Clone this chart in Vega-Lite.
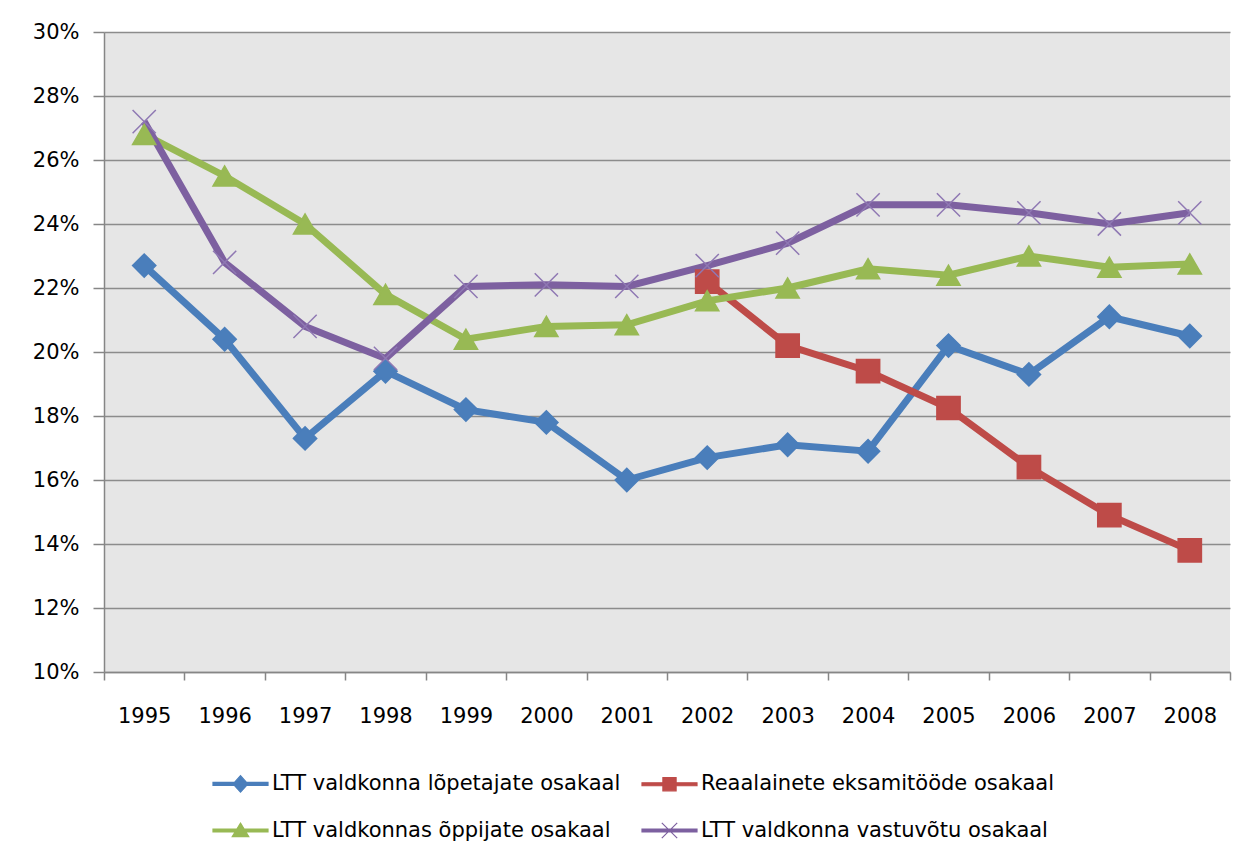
{
  "$schema": "https://vega.github.io/schema/vega-lite/v6.json",
  "width": 1126,
  "height": 640,
  "autosize": {"type": "none"},
  "padding": {"left": 104, "top": 32, "right": 17, "bottom": 191},
  "background": "white",
  "config": {
    "view": {"fill": "#e6e6e6", "stroke": null},
    "font": "DejaVu Sans"
  },
  "data": {
    "values": [
      {"year": "1995", "series": "LTT valdkonna lõpetajate osakaal", "value": 0.227},
      {"year": "1996", "series": "LTT valdkonna lõpetajate osakaal", "value": 0.204},
      {"year": "1997", "series": "LTT valdkonna lõpetajate osakaal", "value": 0.173},
      {"year": "1998", "series": "LTT valdkonna lõpetajate osakaal", "value": 0.194},
      {"year": "1999", "series": "LTT valdkonna lõpetajate osakaal", "value": 0.182},
      {"year": "2000", "series": "LTT valdkonna lõpetajate osakaal", "value": 0.178},
      {"year": "2001", "series": "LTT valdkonna lõpetajate osakaal", "value": 0.160},
      {"year": "2002", "series": "LTT valdkonna lõpetajate osakaal", "value": 0.167},
      {"year": "2003", "series": "LTT valdkonna lõpetajate osakaal", "value": 0.171},
      {"year": "2004", "series": "LTT valdkonna lõpetajate osakaal", "value": 0.169},
      {"year": "2005", "series": "LTT valdkonna lõpetajate osakaal", "value": 0.202},
      {"year": "2006", "series": "LTT valdkonna lõpetajate osakaal", "value": 0.193},
      {"year": "2007", "series": "LTT valdkonna lõpetajate osakaal", "value": 0.211},
      {"year": "2008", "series": "LTT valdkonna lõpetajate osakaal", "value": 0.205},
      {"year": "2002", "series": "Reaalainete eksamitööde osakaal", "value": 0.222},
      {"year": "2003", "series": "Reaalainete eksamitööde osakaal", "value": 0.202},
      {"year": "2004", "series": "Reaalainete eksamitööde osakaal", "value": 0.194},
      {"year": "2005", "series": "Reaalainete eksamitööde osakaal", "value": 0.1825},
      {"year": "2006", "series": "Reaalainete eksamitööde osakaal", "value": 0.164},
      {"year": "2007", "series": "Reaalainete eksamitööde osakaal", "value": 0.149},
      {"year": "2008", "series": "Reaalainete eksamitööde osakaal", "value": 0.138},
      {"year": "1995", "series": "LTT valdkonnas õppijate osakaal", "value": 0.268},
      {"year": "1996", "series": "LTT valdkonnas õppijate osakaal", "value": 0.255},
      {"year": "1997", "series": "LTT valdkonnas õppijate osakaal", "value": 0.240},
      {"year": "1998", "series": "LTT valdkonnas õppijate osakaal", "value": 0.218},
      {"year": "1999", "series": "LTT valdkonnas õppijate osakaal", "value": 0.204},
      {"year": "2000", "series": "LTT valdkonnas õppijate osakaal", "value": 0.208},
      {"year": "2001", "series": "LTT valdkonnas õppijate osakaal", "value": 0.2085},
      {"year": "2002", "series": "LTT valdkonnas õppijate osakaal", "value": 0.216},
      {"year": "2003", "series": "LTT valdkonnas õppijate osakaal", "value": 0.220},
      {"year": "2004", "series": "LTT valdkonnas õppijate osakaal", "value": 0.226},
      {"year": "2005", "series": "LTT valdkonnas õppijate osakaal", "value": 0.224},
      {"year": "2006", "series": "LTT valdkonnas õppijate osakaal", "value": 0.230},
      {"year": "2007", "series": "LTT valdkonnas õppijate osakaal", "value": 0.2265},
      {"year": "2008", "series": "LTT valdkonnas õppijate osakaal", "value": 0.2275},
      {"year": "1995", "series": "LTT valdkonna vastuvõtu osakaal", "value": 0.272},
      {"year": "1996", "series": "LTT valdkonna vastuvõtu osakaal", "value": 0.228},
      {"year": "1997", "series": "LTT valdkonna vastuvõtu osakaal", "value": 0.208},
      {"year": "1998", "series": "LTT valdkonna vastuvõtu osakaal", "value": 0.198},
      {"year": "1999", "series": "LTT valdkonna vastuvõtu osakaal", "value": 0.2205},
      {"year": "2000", "series": "LTT valdkonna vastuvõtu osakaal", "value": 0.221},
      {"year": "2001", "series": "LTT valdkonna vastuvõtu osakaal", "value": 0.2205},
      {"year": "2002", "series": "LTT valdkonna vastuvõtu osakaal", "value": 0.227},
      {"year": "2003", "series": "LTT valdkonna vastuvõtu osakaal", "value": 0.234},
      {"year": "2004", "series": "LTT valdkonna vastuvõtu osakaal", "value": 0.246},
      {"year": "2005", "series": "LTT valdkonna vastuvõtu osakaal", "value": 0.246},
      {"year": "2006", "series": "LTT valdkonna vastuvõtu osakaal", "value": 0.2435},
      {"year": "2007", "series": "LTT valdkonna vastuvõtu osakaal", "value": 0.240},
      {"year": "2008", "series": "LTT valdkonna vastuvõtu osakaal", "value": 0.2435}
    ]
  },
  "encoding": {
    "x": {
      "field": "year",
      "type": "ordinal",
      "scale": {"type": "band", "paddingInner": 0, "paddingOuter": 0},
      "axis": {
        "title": null,
        "labelAngle": 0,
        "tickBand": "extent",
        "tickSize": 8,
        "tickColor": "#868686",
        "tickWidth": 1.5,
        "domainColor": "#868686",
        "domainWidth": 1.5,
        "labelFontSize": 21,
        "labelColor": "#000000",
        "labelPadding": 25,
        "grid": false
      }
    },
    "y": {
      "field": "value",
      "type": "quantitative",
      "scale": {"domain": [0.1, 0.3], "nice": false, "zero": false},
      "axis": {
        "title": null,
        "values": [0.1, 0.12, 0.14, 0.16, 0.18, 0.2, 0.22, 0.24, 0.26, 0.28, 0.3],
        "format": ".0%",
        "tickSize": 11,
        "tickColor": "#868686",
        "tickWidth": 1.5,
        "domainColor": "#868686",
        "domainWidth": 1.5,
        "labelFontSize": 21,
        "labelColor": "#000000",
        "labelPadding": 14,
        "grid": true,
        "gridColor": "#8c8c8c",
        "gridWidth": 1.5
      }
    }
  },
  "layer": [
    {
      "mark": {"type": "line", "strokeWidth": 7},
      "encoding": {
        "color": {
          "field": "series",
          "type": "nominal",
          "scale": {
            "domain": ["LTT valdkonna lõpetajate osakaal", "Reaalainete eksamitööde osakaal", "LTT valdkonnas õppijate osakaal", "LTT valdkonna vastuvõtu osakaal"],
            "range": ["#4a7ebb", "#be4b48", "#98b954", "#7d60a0"]
          },
          "legend": {
            "orient": "none",
            "direction": "horizontal",
            "legendX": 108,
            "legendY": 723,
            "columns": 2,
            "title": null,
            "labelFontSize": 21,
            "labelLimit": 0,
            "labelColor": "#000000",
            "labelOffset": 3,
            "columnPadding": 18,
            "rowPadding": 7,
            "symbolSize": 3025,
            "symbolStrokeWidth": 1.2,
            "symbolOpacity": 1,
            "encode": {
              "symbols": {
                "update": {
                  "shape": {"signal": "datum.value === 'LTT valdkonna lõpetajate osakaal' ? 'M-1,-0.055H1V0.055H-1Z M0,-0.3L0.27,0L0,0.3L-0.27,0Z' : datum.value === 'Reaalainete eksamitööde osakaal' ? 'M-1,-0.055H1V0.055H-1Z M-0.24,-0.24H0.24V0.24H-0.24Z' : datum.value === 'LTT valdkonnas õppijate osakaal' ? 'M-1,-0.055H1V0.055H-1Z M0,-0.27L0.3,0.22L-0.3,0.22Z' : 'M-1,-0.055H1V0.055H-1Z M-0.28,-0.28L0.28,0.28 M0.28,-0.28L-0.28,0.28'"},
                  "fill": {"signal": "datum.value === 'LTT valdkonna lõpetajate osakaal' ? '#4a7ebb' : datum.value === 'Reaalainete eksamitööde osakaal' ? '#be4b48' : datum.value === 'LTT valdkonnas õppijate osakaal' ? '#98b954' : '#7d60a0'"},
                  "stroke": {"signal": "datum.value === 'LTT valdkonna lõpetajate osakaal' ? '#4a7ebb' : datum.value === 'Reaalainete eksamitööde osakaal' ? '#be4b48' : datum.value === 'LTT valdkonnas õppijate osakaal' ? '#98b954' : '#7d60a0'"},
                  "strokeWidth": {"value": 1.2}
                }
              }
            }
          }
        }
      }
    },
    {
      "mark": {"type": "point", "size": 540, "strokeWidth": 1.5, "opacity": 1},
      "encoding": {
        "shape": {
          "field": "series",
          "type": "nominal",
          "scale": {"range": ["diamond", "M-1,-1L1,1M1,-1L-1,1", "triangle-up", "square"]},
          "legend": null
        },
        "fill": {
          "field": "series",
          "type": "nominal",
          "scale": {"range": ["#4a7ebb", "transparent", "#98b954", "#be4b48"]},
          "legend": null
        },
        "stroke": {
          "field": "series",
          "type": "nominal",
          "scale": {"range": ["#4a7ebb", "#8f78b3", "#98b954", "#be4b48"]},
          "legend": null
        }
      }
    }
  ]
}
